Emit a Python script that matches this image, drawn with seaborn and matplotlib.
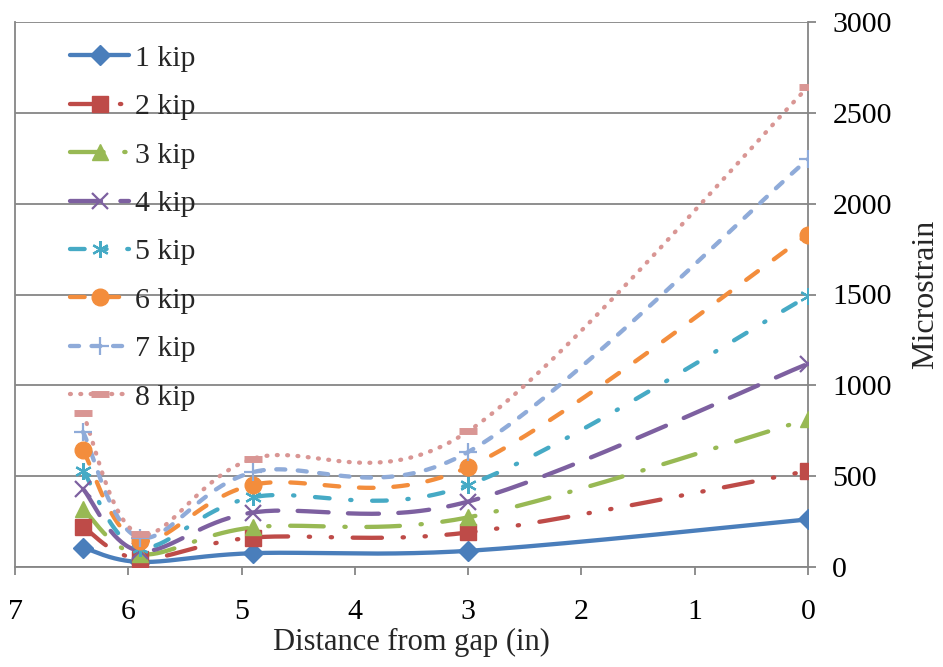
import numpy as np
import matplotlib
matplotlib.use("Agg")
import matplotlib.pyplot as plt
from matplotlib.lines import Line2D
import seaborn as sns

# ---- data ----
distance = [6.4, 5.9, 4.9, 3.0, 0.0]
series_labels = ["1 kip", "2 kip", "3 kip", "4 kip", "5 kip", "6 kip", "7 kip", "8 kip"]
kip1 = [107, 28, 76, 89, 262]
kip2 = [221, 46, 162, 190, 529]
kip3 = [319, 70, 218, 273, 813]
kip4 = [430, 89, 300, 360, 1119]
kip5 = [531, 107, 384, 452, 1490]
kip6 = [642, 144, 452, 550, 1830]
kip7 = [744, 162, 522, 633, 2245]
kip8 = [845, 181, 596, 747, 2642]
y_ticks = [0, 500, 1000, 1500, 2000, 2500, 3000]
x_ticks = [7, 6, 5, 4, 3, 2, 1, 0]

series = [kip1, kip2, kip3, kip4, kip5, kip6, kip7, kip8]
colors = ["#4A7EBB", "#BE4B48", "#98B954", "#7D60A0", "#46AAC5", "#F38D3C", "#8FABD9", "#D99694"]
markers = ["D", "s", "^", "x", (6, 2, 0), "o", "+", "_"]
msizes = [10, 12, 12, 12, 12, 12, 13, 13]
dashes = [
    "-",
    (0, (6.8, 4.8, 0.3, 4.8, 0.3, 4.8)),
    (0, (7.8, 4.8, 0.3, 4.8)),
    (0, (7.2, 4.5)),
    (0, (3.4, 4.8, 0.3, 4.8)),
    (0, (3.4, 4.6)),
    (0, (2.1, 2.9)),
    (0, (0.2, 2.2)),
]

W, H = 943, 667
fig = plt.figure(figsize=(W / 100, H / 100), dpi=100)
sns.set_style("white")
plt.rcParams["font.family"] = ["Liberation Serif", "DejaVu Serif"]
ax = fig.add_axes([15 / W, 1 - 567 / H, (808 - 15) / W, (567 - 22) / H])

# pixel scale factors so the smoothing is done in screen space (as Excel does)
sx = (808 - 15) / 7.0
sy = (567 - 22) / 3000.0


def smooth(xs, ys, n=40):
    P = np.column_stack([np.array(xs) * sx, np.array(ys) * sy])
    out = []
    m = len(P)
    for i in range(m - 1):
        p0 = P[i - 1] if i > 0 else P[i]
        p1 = P[i]
        p2 = P[i + 1]
        p3 = P[i + 2] if i + 2 < m else P[i + 1]
        c1 = p1 + (p2 - p0) / 6.0
        c2 = p2 - (p3 - p1) / 6.0
        t = np.linspace(0, 1, n)[:, None]
        seg = ((1 - t) ** 3) * p1 + 3 * ((1 - t) ** 2) * t * c1 + 3 * (1 - t) * t ** 2 * c2 + t ** 3 * p2
        out.append(seg if i == 0 else seg[1:])
    out = np.vstack(out)
    return out[:, 0] / sx, out[:, 1] / sy


lw = 3.1
handles = []
for vals, lab, c, mk, ms, ls in zip(series, series_labels, colors, markers, msizes, dashes):
    xs_s, ys_s = smooth(distance, vals)
    sns.lineplot(x=xs_s, y=ys_s, sort=False, estimator=None, ax=ax, color=c,
                 linewidth=lw, linestyle=ls, dash_capstyle="round",
                 solid_capstyle="round", zorder=3)
    if mk in ("x", "+") or isinstance(mk, tuple):
        mew = 1.6
    elif mk == "_":
        mew = 5
    else:
        mew = 1
    ax.plot(distance, vals, linestyle="none", marker=mk, markersize=ms, color=c,
            markeredgecolor=c, markeredgewidth=mew, zorder=4)
    handles.append(Line2D([], [], color=c, linewidth=lw, linestyle=ls,
                          dash_capstyle="round", solid_capstyle="round",
                          marker=mk, markersize=ms, markeredgecolor=c,
                          markeredgewidth=mew))

ax.set_xlim(7, 0)
ax.set_ylim(0, 3000)
ax.set_xticks(x_ticks)
ax.set_yticks(y_ticks)
ax.yaxis.tick_right()
ax.yaxis.set_label_position("right")
ax.grid(axis="y", color="#868686", linewidth=1.3)
ax.set_axisbelow(True)
for s in ax.spines.values():
    s.set_color("#868686")
    s.set_linewidth(1.3)
ax.spines["top"].set_visible(False)
ax.tick_params(axis="both", direction="out", length=6, width=1.3, color="#868686",
               labelsize=21.5, labelcolor="black")
ax.tick_params(axis="y", right=True, left=False, pad=11.5)
ax.tick_params(axis="x", bottom=True, pad=17)
ax.set_xlabel("Distance from gap (in)", fontsize=22, labelpad=2)
ax.set_ylabel("Microstrain", fontsize=23, labelpad=14)

leg = ax.legend(handles, series_labels, loc="upper left", bbox_to_anchor=(0.069, 0.958),
                frameon=False, fontsize=21.5, handlelength=2.0, labelspacing=0.72,
                handletextpad=0.2, borderpad=0, borderaxespad=0, numpoints=1)

fig.savefig("out.png", dpi=100)
